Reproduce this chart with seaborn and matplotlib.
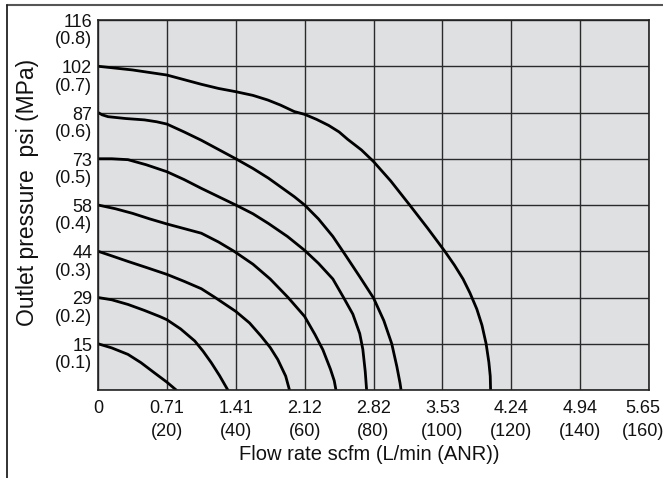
import numpy as np
import pandas as pd
import seaborn as sns
import matplotlib.pyplot as plt
import matplotlib.transforms as mtransforms
from matplotlib.lines import Line2D

sns.set_theme(style="white")
plt.rcParams['font.family'] = ['Liberation Sans', 'DejaVu Sans']

# Flow characteristics, one curve per set pressure (MPa)
# flow in L/min (ANR), outlet pressure in MPa
set_pressure = [0.1, 0.2, 0.3, 0.4, 0.5, 0.6, 0.7]

flow_01 = [0, 4, 8.7, 12.5, 16.4, 20, 22.7]
outp_01 = [0.10, 0.091, 0.077, 0.059, 0.037, 0.017, 0.0]

flow_02 = [0, 4, 8.7, 13.5, 17.9, 20, 24, 28.1, 30.5, 32.9, 35.3, 37.7]
outp_02 = [0.20, 0.195, 0.185, 0.172, 0.159, 0.152, 0.132, 0.106, 0.084, 0.059, 0.031, 0.0]

flow_03 = [0, 4, 8.7, 14, 20, 25, 30, 34, 40, 44, 47.3, 50, 52.2, 54.5, 55.6]
outp_03 = [0.30, 0.29, 0.278, 0.265, 0.25, 0.235, 0.219, 0.20, 0.17, 0.145, 0.117, 0.092, 0.066, 0.03, 0.0]

flow_04 = [0, 5, 10, 15, 20, 25, 30, 35, 39.5, 45, 50, 55.2, 60, 63, 65.3, 67.5, 68.6, 69.1]
outp_04 = [0.40, 0.392, 0.382, 0.37, 0.359, 0.349, 0.339, 0.32, 0.30, 0.272, 0.24, 0.20, 0.159, 0.12, 0.087, 0.045, 0.02, 0.0]

flow_05 = [0, 4, 8.7, 14, 20, 25, 30, 35, 40, 45, 49.5, 55, 60, 64, 68.2, 71.3, 74, 76, 76.9, 77.6, 78]
outp_05 = [0.50, 0.50, 0.498, 0.487, 0.472, 0.455, 0.436, 0.418, 0.40, 0.381, 0.36, 0.332, 0.302, 0.274,
           0.24, 0.20, 0.164, 0.122, 0.088, 0.04, 0.0]

flow_06 = [0, 1.2, 2.9, 8, 13.5, 17, 20, 25, 30, 35, 40, 45, 49.5, 57, 60, 64, 68.2, 72, 76, 80, 83, 85.3, 86.8, 87.7, 88]
outp_06 = [0.60, 0.595, 0.591, 0.587, 0.584, 0.58, 0.575, 0.558, 0.54, 0.52, 0.50, 0.479, 0.458, 0.418, 0.40,
           0.37, 0.332, 0.29, 0.245, 0.199, 0.15, 0.10, 0.05, 0.015, 0.0]

flow_07 = [0, 10, 20, 25, 30, 35, 40, 45, 49.3, 53, 57, 60, 63.5, 67, 70, 72.5, 76.5, 80, 85, 90.5, 95.7, 100.7,
           103.5, 106, 108, 110, 111.5, 112.7, 113.5, 113.9, 114]
outp_07 = [0.70, 0.692, 0.681, 0.671, 0.661, 0.652, 0.645, 0.637, 0.627, 0.616, 0.602, 0.596, 0.585, 0.572,
           0.558, 0.542, 0.519, 0.494, 0.452, 0.40, 0.35, 0.30, 0.27, 0.24, 0.21, 0.175, 0.14, 0.10, 0.06, 0.03, 0.0]

x_ticks = [0, 20, 40, 60, 80, 100, 120, 140, 160]
x_labels = ['0', '0.71\n(20)', '1.41\n(40)', '2.12\n(60)', '2.82\n(80)',
            '3.53\n(100)', '4.24\n(120)', '4.94\n(140)', '5.65\n(160)']
y_ticks = [0, 0.1, 0.2, 0.3, 0.4, 0.5, 0.6, 0.7, 0.8]
y_labels = ['', '15\n(0.1)', '29\n(0.2)', '44\n(0.3)', '58\n(0.4)',
            '73\n(0.5)', '87\n(0.6)', '102\n(0.7)', '116\n(0.8)']

flows = [flow_01, flow_02, flow_03, flow_04, flow_05, flow_06, flow_07]
outps = [outp_01, outp_02, outp_03, outp_04, outp_05, outp_06, outp_07]
df = pd.concat([pd.DataFrame({'flow': f, 'outlet': p, 'set': s})
                for s, f, p in zip(set_pressure, flows, outps)], ignore_index=True)

W, H = 663, 478
fig = plt.figure(figsize=(W / 100, H / 100), dpi=100)
ax = fig.add_axes([98 / W, 1 - 390 / H, 551 / W, 370 / H])
ax.set_facecolor('#dfe0e2')

sns.lineplot(data=df, x='flow', y='outlet', units='set', estimator=None, sort=False,
             color='black', lw=2, solid_joinstyle='round', legend=False, ax=ax)

ax.set_xlim(0, 160)
ax.set_ylim(0, 0.8)
ax.set_xticks(x_ticks, x_labels)
ax.set_yticks(y_ticks, y_labels)
ax.grid(True, color='#2a2a2a', lw=1)
ax.set_axisbelow(True)
for sp in ax.spines.values():
    sp.set_color('#222222')
    sp.set_linewidth(1.2)

ax.tick_params(axis='x', length=0, pad=7.5, labelsize=13, colors='#111111')
ax.tick_params(axis='y', length=2.2, width=1, pad=2, labelsize=13, colors='#111111')
for lab in ax.get_xticklabels():
    lab.set_linespacing(1.42)
ax.get_xticklabels()[-1].set_transform(
    ax.get_xticklabels()[-1].get_transform() + mtransforms.ScaledTranslation(-6 / 100, 0, fig.dpi_scale_trans))
shift = mtransforms.ScaledTranslation(0, 6 / 100, fig.dpi_scale_trans)
for lab in ax.get_yticklabels():
    lab.set_va('top')
    lab.set_linespacing(1.02)
    lab.set_transform(lab.get_transform() + shift)

ax.set_xlabel('Flow rate scfm (L/min (ANR))', fontsize=14.5, color='#111111', va='center')
ax.xaxis.set_label_coords((369 - 98) / 551, (390 - 455) / 370)
ax.set_ylabel('Outlet pressure  psi (MPa)', fontsize=16.5, color='#111111', va='center')
ax.yaxis.set_label_coords((28 - 98) / 551, (390 - 192) / 370)

# outer frame lines
fig.add_artist(Line2D([7 / W, 1], [1 - 4.5 / H, 1 - 4.5 / H], color='#555555', lw=1.5))
fig.add_artist(Line2D([7 / W, 7 / W], [0, 1 - 4.5 / H], color='#222222', lw=1.3))

fig.savefig('out.png', dpi=100)
